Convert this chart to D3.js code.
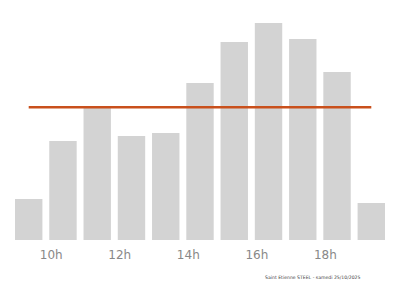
<!DOCTYPE html>
<html>
<head>
<meta charset="utf-8">
<script src="https://cdn.jsdelivr.net/npm/d3@7"></script>
<style>
  body { margin: 0; background: #fff; }
  svg { display: block; }
</style>
</head>
<body>
<svg id="chart" width="400" height="286"></svg>
<script>
// hourly values, bar for hour h covers h -> h + 0.8
var hours = [9, 10, 11, 12, 13, 14, 15, 16, 17, 18, 19];
var values = [41, 99, 132, 104, 107, 157, 198, 217, 201, 168, 37];
var tickHours = [10, 12, 14, 16, 18];
var footer = 'Saint Etienne STEEL - samedi 25/10/2025';

var svg = d3.select('#chart');

var x = d3.scaleLinear()
  .domain([9, 19.8])
  .range([15, 385]);

var y = d3.scaleLinear()
  .domain([0, 240])
  .range([240, 0]);

var barW = x(9.8) - x(9);

svg.append('g')
  .selectAll('rect')
  .data(hours)
  .enter().append('rect')
    .attr('x', (d) => x(d))
    .attr('y', (d, i) => y(values[i]))
    .attr('width', barW)
    .attr('height', (d, i) => y(0) - y(values[i]))
    .attr('fill', '#d3d3d3');

// average line, from first bar centre to last bar centre
var avg = d3.mean(values);
svg.append('line')
  .attr('x1', x(hours[0] + 0.4))
  .attr('x2', x(hours[hours.length - 1] + 0.4))
  .attr('y1', y(avg))
  .attr('y2', y(avg))
  .attr('stroke', '#c9501c')
  .attr('stroke-width', 2.5);

var axis = svg.append('g')
  .attr('transform', 'translate(1.5,' + y(0) + ')')
  .call(d3.axisBottom(x).tickValues(tickHours).tickFormat((d) => d + 'h').tickSize(0).tickPadding(10));

axis.select('.domain').remove();
axis.selectAll('text')
  .attr('font-family', 'DejaVu Sans')
  .attr('font-size', 12)
  .attr('fill', '#888');

svg.append('text')
  .attr('x', 265)
  .attr('y', 278.5)
  .attr('font-family', 'DejaVu Sans')
  .attr('font-size', 4.6)
  .attr('fill', '#444')
  .text(footer);
</script>
</body>
</html>
